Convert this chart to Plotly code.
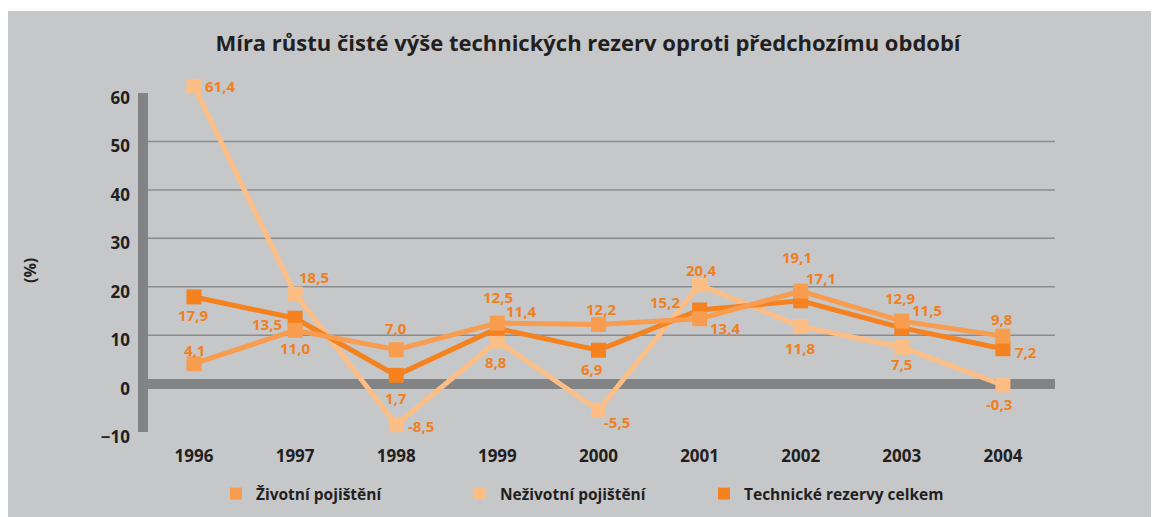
import plotly.graph_objects as go

years = ["1996", "1997", "1998", "1999", "2000", "2001", "2002", "2003", "2004"]
zivotni = [4.1, 11.0, 7.0, 12.5, 12.2, 13.4, 19.1, 12.9, 9.8]
nezivotni = [61.4, 18.5, -8.5, 8.8, -5.5, 20.4, 11.8, 7.5, -0.3]
technicke = [17.9, 13.5, 1.7, 11.4, 6.9, 15.2, 17.1, 11.5, 7.2]
y_ticks = [-10, 0, 10, 20, 30, 40, 50, 60]
grid_vals = [10, 20, 30, 40, 50]

names = ["Životní pojištění", "Neživotní pojištění", "Technické rezervy celkem"]
colors = ["#f89d50", "#fdbe86", "#f5821f"]

# label offsets from the marker, in pixels (dx right, dy down)
off_ziv = [(0, -14), (0, 18), (0, -22), (1, -26), (3, -16), (25, 9), (-4, -34), (-2, -23), (-1, -17)]
off_nez = [(26, 0), (19, -17), (25, 1), (-1, 21), (19, 12), (1, -15), (-1, 22), (0, 17), (-4, 19)]
off_tech = [(-1, 18), (-28, 6), (0, 23), (24, -17), (-6, 19), (-35, -8), (20, -23), (25, -18), (23, 3)]

FONT = "Open Sans"
LABEL_COLOR = "#f07f1e"
DARK = "#231f20"
BG = "#c6c7c9"
AXIS = "#828385"

W, H = 1151, 509
L, R, T, B = 140, 104, 73, 85
PW, PH = W - L - R, H - T - B


def fmt(v):
    return f"{v:.1f}".replace(".", ",")


x_idx = list(range(len(years)))

fig = go.Figure()

series = [
    (names[1], nezivotni, colors[1], off_nez),
    (names[2], technicke, colors[2], off_tech),
    (names[0], zivotni, colors[0], off_ziv),
]
annotations = []
for name, vals, col, offs in series:
    fig.add_trace(go.Scatter(
        x=x_idx, y=vals, mode="lines+markers", name=name,
        line=dict(color=col, width=5),
        marker=dict(symbol="square", size=15, color=col),
        cliponaxis=False, showlegend=False,
    ))
    for xi, v, (dx, dy) in zip(x_idx, vals, offs):
        annotations.append(dict(
            x=xi, y=v, xref="x", yref="y", text="<b>" + fmt(v) + "</b>",
            showarrow=False, xanchor="center", yanchor="middle",
            xshift=dx, yshift=-dy,
            font=dict(family=FONT, size=15, color=LABEL_COLOR),
        ))

# legend entries (markers only)
for name, col in zip(names, colors):
    fig.add_trace(go.Scatter(
        x=[None], y=[None], mode="markers", name=name,
        marker=dict(symbol="square", size=12, color=col), showlegend=True,
    ))

shapes = []
for g in grid_vals:
    shapes.append(dict(type="line", xref="paper", yref="y", x0=0, x1=1, y0=g, y1=g,
                       line=dict(color="#8b8c8e", width=1.5), layer="below"))
# vertical axis bar from -10 to 60
shapes.append(dict(type="line", xref="paper", yref="y", x0=-5 / PW, x1=-5 / PW,
                   y0=y_ticks[0], y1=y_ticks[-1], line=dict(color=AXIS, width=10), layer="below"))
# thin white strip at the top
shapes.append(dict(type="rect", xref="paper", yref="paper", x0=-0.3, x1=1.3,
                   y0=(PH + T - 3) / PH, y1=(PH + T + 5) / PH,
                   fillcolor="white", line=dict(width=0), layer="below"))

annotations.append(dict(text="<b>(%)</b>", xref="paper", yref="paper",
                        x=(30 - 148) / PW, y=(424 - 262) / PH, textangle=-90,
                        showarrow=False, xanchor="center", yanchor="middle",
                        font=dict(family=FONT, size=16, color=DARK)))

fig.update_layout(
    width=W, height=H,
    margin=dict(l=L, r=R, t=T, b=B, pad=0, autoexpand=False),
    paper_bgcolor=BG, plot_bgcolor=BG,
    font=dict(family=FONT, color=DARK),
    title=dict(text="<b>Míra růstu čisté výše technických rezerv oproti předchozímu období</b>",
               x=580 / W, xanchor="center", y=1 - 35 / H, yanchor="middle",
               font=dict(family=FONT, size=22, color=DARK)),
    xaxis=dict(range=[-0.455, 8.515], tickvals=x_idx, ticktext=years,
               showgrid=False, zeroline=False, showline=False, ticks="",
               ticklabelstandoff=12, automargin=False,
               tickfont=dict(family=FONT, size=17, color=DARK, weight="bold"),
               fixedrange=True),
    yaxis=dict(range=[-10, 62.5], tickvals=y_ticks, showgrid=False,
               zeroline=True, zerolinecolor=AXIS, zerolinewidth=10,
               showline=False, ticks="", automargin=False,
               ticklabelstandoff=17, ticklabelshift=5,
               tickfont=dict(family=FONT, size=17, color=DARK, weight="bold")),
    shapes=shapes,
    annotations=annotations,
    legend=dict(orientation="h", x=68 / PW, xanchor="left", xref="paper",
                y=1 - 486 / H, yanchor="middle", yref="container",
                entrywidth=199, entrywidthmode="pixels",
                bgcolor="rgba(0,0,0,0)",
                font=dict(family=FONT, size=15.5, color=DARK, weight="bold")),
)

fig.write_html("out.html")
